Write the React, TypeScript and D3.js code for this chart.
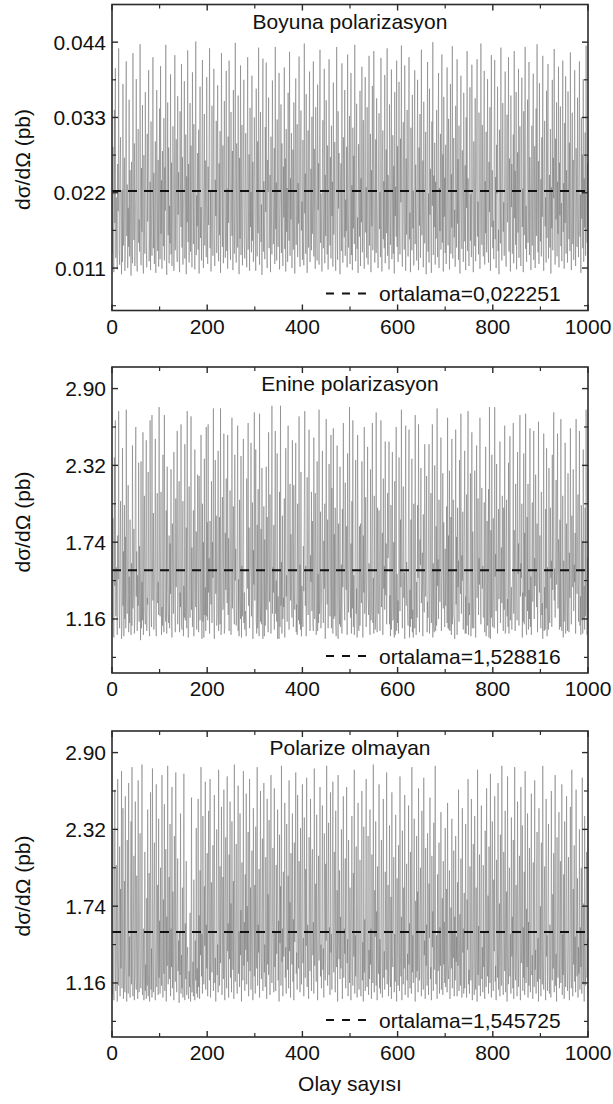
import React from "react";
import * as d3 from "d3";

// ---------- data ----------
// one value per event, events 1..1000

const X_TICKS = [0, 200, 400, 600, 800, 1000];
const X_MINOR = [100, 300, 500, 700, 900];

const TITLES = ["Boyuna polarizasyon", "Enine polarizasyon", "Polarize olmayan"];
const MEANS = [0.022251, 1.528816, 1.545725];
const MEAN_LABELS = ["ortalama=0,022251", "ortalama=1,528816", "ortalama=1,545725"];

const Y_TICKS_A = [0.011, 0.022, 0.033, 0.044];
const Y_TICK_LABELS_A = ["0.011", "0.022", "0.033", "0.044"];
const Y_MINOR_A = [0.0055, 0.0165, 0.0275, 0.0385];
const Y_DOMAIN_A = [0.0048, 0.0495];

const Y_TICKS_B = [1.16, 1.74, 2.32, 2.9];
const Y_TICK_LABELS_B = ["1.16", "1.74", "2.32", "2.90"];
const Y_MINOR_B = [0.87, 1.45, 2.03, 2.61];
const Y_DOMAIN_B = [0.752, 3.063];

const BOYUNA = [
  .0132,.0287,.0118,.0104,.0341,.0176,.0402,.0125,.0213,.0149,.0108,.0262,.0193,.0431,.0137,.0115,.0246,.0301,.0162,.0101,
  .0224,.0119,.0379,.0143,.0185,.0271,.0106,.0129,.0333,.0412,.0157,.0232,.0110,.0198,.0141,.0356,.0127,.0253,.0172,.0099,
  .0265,.0138,.0117,.0424,.0203,.0151,.0292,.0113,.0169,.0240,.0386,.0126,.0105,.0218,.0313,.0147,.0181,.0134,.0437,.0209,
  .0114,.0256,.0163,.0348,.0122,.0102,.0275,.0190,.0131,.0367,.0229,.0144,.0111,.0306,.0178,.0259,.0399,.0120,.0155,.0236,
  .0107,.0324,.0166,.0128,.0213,.0418,.0139,.0249,.0116,.0184,.0295,.0103,.0152,.0370,.0227,.0135,.0268,.0112,.0197,.0343,
  .0123,.0405,.0160,.0238,.0109,.0281,.0174,.0142,.0329,.0121,.0257,.0194,.0436,.0133,.0100,.0219,.0352,.0158,.0286,.0117,
  .0201,.0146,.0393,.0130,.0264,.0113,.0179,.0317,.0242,.0106,.0161,.0421,.0136,.0225,.0298,.0150,.0119,.0361,.0188,.0250,
  .0127,.0104,.0339,.0214,.0170,.0408,.0140,.0272,.0115,.0196,.0233,.0383,.0124,.0159,.0305,.0101,.0244,.0177,.0428,.0148,
  .0262,.0118,.0207,.0351,.0134,.0289,.0165,.0111,.0396,.0229,.0145,.0320,.0187,.0108,.0255,.0441,.0129,.0216,.0171,.0278,
  .0137,.0312,.0102,.0247,.0375,.0154,.0199,.0121,.0284,.0414,.0162,.0110,.0236,.0335,.0143,.0267,.0183,.0126,.0389,.0205,
  .0116,.0258,.0173,.0297,.0431,.0139,.0222,.0105,.0166,.0347,.0191,.0128,.0274,.0401,.0152,.0113,.0239,.0186,.0325,.0132,
  .0211,.0377,.0147,.0120,.0263,.0158,.0310,.0103,.0195,.0424,.0230,.0141,.0289,.0117,.0168,.0354,.0249,.0125,.0182,.0398,
  .0135,.0226,.0109,.0302,.0176,.0413,.0260,.0144,.0122,.0338,.0201,.0157,.0281,.0107,.0370,.0215,.0131,.0245,.0439,.0164,
  .0118,.0292,.0189,.0140,.0362,.0233,.0101,.0271,.0153,.0406,.0129,.0208,.0319,.0114,.0179,.0252,.0385,.0146,.0124,.0228,
  .0307,.0160,.0111,.0243,.0418,.0137,.0198,.0276,.0106,.0344,.0170,.0221,.0133,.0391,.0150,.0265,.0119,.0185,.0330,.0240,
  .0142,.0106,.0372,.0213,.0127,.0295,.0161,.0432,.0180,.0115,.0254,.0338,.0148,.0203,.0100,.0279,.0416,.0134,.0237,.0174,
  .0123,.0316,.0192,.0410,.0156,.0110,.0268,.0221,.0359,.0139,.0171,.0246,.0104,.0302,.0187,.0130,.0384,.0251,.0145,.0209,
  .0285,.0116,.0433,.0167,.0235,.0121,.0327,.0197,.0141,.0261,.0395,.0108,.0177,.0224,.0349,.0132,.0292,.0154,.0113,.0258,
  .0184,.0403,.0138,.0270,.0105,.0313,.0163,.0227,.0119,.0366,.0202,.0150,.0426,.0128,.0241,.0181,.0307,.0110,.0173,.0283,
  .0137,.0352,.0216,.0102,.0259,.0387,.0144,.0196,.0320,.0126,.0234,.0175,.0419,.0158,.0112,.0275,.0340,.0165,.0207,.0122,
  .0297,.0149,.0114,.0438,.0190,.0248,.0131,.0364,.0169,.0103,.0222,.0311,.0140,.0267,.0397,.0119,.0183,.0255,.0136,.0331,
  .0160,.0207,.0412,.0127,.0284,.0172,.0109,.0345,.0238,.0153,.0121,.0378,.0195,.0263,.0115,.0304,.0429,.0147,.0219,.0178,
  .0105,.0262,.0326,.0139,.0188,.0401,.0117,.0246,.0157,.0355,.0226,.0130,.0289,.0108,.0170,.0415,.0203,.0143,.0272,.0124,
  .0318,.0186,.0236,.0112,.0381,.0159,.0214,.0294,.0134,.0106,.0250,.0433,.0166,.0122,.0339,.0197,.0278,.0148,.0101,.0227,
  .0263,.0135,.0409,.0180,.0118,.0301,.0243,.0155,.0370,.0128,.0210,.0164,.0287,.0111,.0422,.0192,.0140,.0256,.0332,.0116,
  .0174,.0395,.0129,.0231,.0107,.0315,.0168,.0274,.0145,.0436,.0199,.0120,.0257,.0350,.0138,.0184,.0103,.0291,.0218,.0156,
  .0369,.0113,.0241,.0177,.0404,.0133,.0204,.0326,.0151,.0109,.0280,.0389,.0162,.0228,.0125,.0345,.0194,.0115,.0266,.0420,
  .0143,.0212,.0306,.0104,.0253,.0171,.0376,.0136,.0189,.0427,.0244,.0118,.0160,.0298,.0132,.0358,.0208,.0149,.0110,.0271,
  .0336,.0167,.0221,.0126,.0417,.0182,.0105,.0264,.0311,.0152,.0237,.0139,.0392,.0117,.0200,.0283,.0161,.0431,.0128,.0246,
  .0190,.0108,.0349,.0273,.0144,.0216,.0400,.0123,.0175,.0304,.0131,.0259,.0102,.0367,.0186,.0229,.0156,.0413,.0141,.0288,
  .0119,.0235,.0382,.0166,.0130,.0299,.0206,.0435,.0148,.0112,.0251,.0323,.0179,.0137,.0406,.0222,.0106,.0270,.0159,.0341,
  .0203,.0127,.0274,.0418,.0152,.0191,.0104,.0315,.0240,.0136,.0363,.0168,.0223,.0114,.0296,.0399,.0145,.0261,.0182,.0121,
  .0248,.0385,.0139,.0107,.0286,.0172,.0335,.0125,.0214,.0429,.0158,.0194,.0267,.0111,.0353,.0233,.0146,.0180,.0309,.0101,
  .0161,.0278,.0411,.0134,.0219,.0118,.0372,.0188,.0255,.0142,.0103,.0324,.0201,.0440,.0129,.0245,.0170,.0293,.0115,.0236,
  .0153,.0341,.0196,.0126,.0265,.0395,.0110,.0227,.0164,.0306,.0137,.0209,.0422,.0147,.0276,.0105,.0360,.0185,.0242,.0132,
  .0290,.0116,.0178,.0403,.0220,.0143,.0328,.0256,.0108,.0192,.0379,.0131,.0247,.0169,.0434,.0124,.0213,.0300,.0155,.0195,
  .0112,.0347,.0232,.0140,.0415,.0175,.0269,.0122,.0318,.0158,.0102,.0254,.0391,.0187,.0138,.0282,.0226,.0119,.0366,.0210,
  .0149,.0260,.0107,.0330,.0198,.0427,.0135,.0241,.0167,.0113,.0302,.0374,.0150,.0218,.0126,.0407,.0263,.0181,.0104,.0295,
  .0228,.0142,.0358,.0120,.0184,.0283,.0415,.0156,.0207,.0130,.0337,.0249,.0109,.0173,.0438,.0214,.0144,.0319,.0190,.0127,
  .0274,.0398,.0115,.0237,.0161,.0309,.0133,.0203,.0386,.0148,.0118,.0265,.0192,.0345,.0106,.0231,.0421,.0170,.0253,.0139,
  .0179,.0123,.0326,.0414,.0152,.0243,.0110,.0290,.0219,.0375,.0135,.0166,.0101,.0312,.0257,.0146,.0432,.0188,.0121,.0239,
  .0351,.0163,.0206,.0128,.0285,.0397,.0141,.0112,.0248,.0334,.0177,.0224,.0418,.0134,.0270,.0154,.0105,.0362,.0199,.0262,
  .0131,.0211,.0305,.0117,.0427,.0183,.0252,.0144,.0367,.0108,.0196,.0279,.0162,.0401,.0125,.0234,.0317,.0150,.0113,.0245,
  .0388,.0170,.0226,.0104,.0339,.0158,.0294,.0433,.0138,.0201,.0119,.0261,.0356,.0147,.0186,.0411,.0129,.0272,.0217,.0107,
  .0165,.0318,.0143,.0250,.0394,.0122,.0176,.0288,.0110,.0230,.0343,.0157,.0437,.0198,.0133,.0266,.0116,.0380,.0208,.0149,
  .0240,.0127,.0301,.0185,.0420,.0139,.0106,.0257,.0325,.0171,.0213,.0118,.0369,.0154,.0283,.0408,.0124,.0193,.0246,.0140,
  .0313,.0102,.0228,.0168,.0385,.0136,.0271,.0212,.0430,.0149,.0115,.0299,.0181,.0352,.0127,.0236,.0160,.0404,.0111,.0264,
  .0187,.0346,.0142,.0205,.0120,.0281,.0413,.0163,.0234,.0109,.0322,.0176,.0390,.0131,.0253,.0198,.0118,.0368,.0221,.0152,
  .0293,.0135,.0425,.0179,.0107,.0244,.0337,.0145,.0268,.0122,.0209,.0399,.0166,.0113,.0285,.0230,.0141,.0359,.0192,.0126,
  .0254,.0412,.0156,.0217,.0103,.0330,.0182,.0276,.0139,.0386,.0119,.0241,.0169,.0308,.0128,.0435,.0200,.0147,.0263,.0172,
];

const ENINE = [
  1.13,1.92,1.06,1.02,2.38,1.41,2.66,1.18,1.55,1.27,1.04,1.79,1.46,2.73,1.21,1.09,1.63,2.05,1.36,1.01,
  1.10,2.45,1.26,1.67,1.03,2.02,1.16,1.78,1.09,2.74,1.35,1.20,1.70,2.17,1.06,1.48,1.13,1.91,1.31,1.04,
  1.58,1.11,2.47,1.24,1.39,1.84,1.05,1.16,2.19,2.61,1.33,1.67,1.07,1.49,1.26,2.34,1.14,1.71,1.43,1.00,
  2.35,1.09,1.44,1.15,2.57,1.04,1.59,2.09,1.22,1.12,1.82,2.51,1.07,1.32,1.27,2.27,1.53,1.11,1.03,2.66,
  1.75,1.22,1.10,2.70,1.52,1.30,1.96,1.08,1.37,1.66,2.52,1.15,1.03,1.54,2.11,1.28,1.44,1.19,2.76,1.50,
  1.18,1.60,2.12,1.04,1.25,1.11,2.40,1.31,1.06,2.70,1.69,1.23,1.14,1.98,1.05,2.31,1.43,1.20,1.13,1.79,
  1.09,1.73,1.35,2.29,1.14,1.02,1.88,1.47,1.20,2.42,1.61,1.29,1.06,2.07,1.40,1.78,2.58,1.12,1.32,1.64,
  2.20,1.06,1.36,1.25,2.63,1.12,1.08,1.72,2.05,1.03,1.41,1.17,2.48,1.15,1.28,1.85,1.09,2.73,1.29,1.02,
  1.04,2.16,1.38,1.17,1.51,2.69,1.23,1.70,1.10,1.42,1.98,1.03,1.34,2.44,1.59,1.25,1.82,1.08,1.45,2.25,
  1.55,1.06,2.24,1.80,1.15,1.34,2.55,1.21,1.01,2.03,1.14,1.74,1.02,2.37,1.19,1.40,1.07,2.61,1.18,1.89,
  1.15,2.63,1.36,1.62,1.05,1.90,1.40,1.27,2.20,1.13,1.74,1.47,2.75,1.21,1.01,1.53,2.36,1.35,1.94,1.11,
  1.19,1.67,2.43,1.07,1.33,1.93,1.12,2.75,1.04,1.10,1.73,2.08,1.23,1.28,2.56,1.05,1.09,1.81,1.38,2.22,
  1.48,1.28,2.55,1.19,1.77,1.07,1.41,2.13,1.65,1.04,1.37,2.68,1.24,1.56,2.01,1.31,1.12,2.40,1.45,1.69,
  1.11,1.24,1.79,2.62,1.07,1.46,1.03,2.06,1.31,1.16,2.39,1.02,1.56,1.18,1.95,2.52,1.13,1.36,1.08,1.22,
  1.16,1.03,2.22,1.54,1.39,2.64,1.26,1.85,1.09,1.46,1.60,2.49,1.18,1.34,2.04,1.01,1.68,1.42,2.72,1.30,
  1.70,2.44,1.15,1.05,1.87,1.09,2.14,1.27,1.03,2.71,1.26,1.14,1.84,1.12,2.30,1.48,1.01,1.37,2.01,1.03,
  1.76,1.11,1.52,2.31,1.23,1.93,1.38,1.06,2.57,1.61,1.29,2.10,1.44,1.05,1.72,2.77,1.20,1.55,1.36,1.87,
  1.08,1.78,2.58,1.20,1.45,1.14,2.41,1.01,1.33,1.19,1.01,2.12,1.10,2.77,1.26,1.59,1.05,1.94,1.16,1.32,
  1.25,2.07,1.02,1.66,2.45,1.33,1.49,1.14,1.89,2.62,1.40,1.08,1.58,2.18,1.30,1.80,1.43,1.17,2.51,1.53,
  1.10,2.17,1.38,1.23,1.82,2.49,1.06,1.27,1.04,2.03,1.32,1.15,2.69,1.12,1.57,1.08,2.27,1.03,1.41,1.29,
  1.10,1.71,1.37,1.97,2.73,1.26,1.56,1.03,1.41,2.23,1.48,1.19,1.83,2.59,1.35,1.07,1.64,1.44,2.12,1.22,
  1.90,1.13,1.07,2.53,1.44,1.16,2.11,1.65,1.04,1.22,2.35,1.07,1.50,1.13,2.74,1.20,1.30,1.97,1.09,1.36,
  1.52,2.43,1.32,1.13,1.75,1.39,2.03,1.01,1.47,2.67,1.59,1.27,1.91,1.09,1.42,2.33,1.69,1.18,1.45,2.55,
  1.09,2.15,1.46,1.05,2.60,1.16,1.80,1.18,2.00,1.12,1.03,1.72,2.47,1.27,1.01,1.88,1.35,1.12,2.31,1.10,
  1.24,1.57,1.05,1.99,1.40,2.64,1.74,1.31,1.15,2.19,1.50,1.38,1.86,1.04,2.41,1.55,1.21,1.67,2.76,1.43,
  1.17,1.73,1.05,2.05,1.24,2.66,1.10,1.49,1.04,1.11,1.95,2.36,1.20,1.39,1.02,2.55,1.56,1.08,1.07,1.86,
  1.11,1.88,1.46,1.28,2.35,1.60,1.02,1.79,1.36,2.61,1.20,1.52,2.08,1.10,1.41,1.70,2.46,1.33,1.19,1.58,
  1.31,1.04,2.29,1.15,1.21,1.85,2.64,1.13,1.47,1.05,2.09,1.41,1.08,1.19,2.72,1.28,1.06,2.00,1.23,1.20,
  1.98,1.37,1.07,1.65,2.66,1.25,1.49,1.81,1.04,2.22,1.39,1.56,1.23,2.50,1.34,1.73,1.12,1.44,2.11,1.62,
  1.80,2.50,1.12,1.34,1.03,2.02,1.08,1.27,2.42,1.15,1.17,1.74,1.02,2.20,1.04,1.42,2.61,1.07,1.50,1.13,
  1.30,1.05,2.38,1.54,1.22,1.91,1.40,2.74,1.45,1.09,1.68,2.16,1.32,1.51,1.01,1.82,2.62,1.26,1.59,1.42,
  1.20,1.11,2.08,2.59,1.02,1.38,1.10,1.91,1.16,2.37,1.06,1.23,1.02,2.03,1.55,1.09,2.70,1.30,1.04,1.44,
  1.17,2.02,1.47,2.63,1.36,1.06,1.76,1.57,2.30,1.28,1.43,1.66,1.03,1.95,1.46,1.21,2.48,1.70,1.33,1.53,
  2.24,1.06,1.29,1.17,1.88,2.48,1.05,1.15,1.62,2.11,1.13,1.35,2.63,1.02,1.58,1.11,1.06,2.32,1.25,1.07,
  1.86,1.11,2.75,1.41,1.61,1.16,2.06,1.50,1.29,1.72,2.53,1.07,1.44,1.58,2.26,1.24,1.89,1.38,1.10,1.69,
  1.26,1.47,2.01,1.13,2.68,1.09,1.79,1.08,2.28,1.07,1.24,1.93,1.04,2.52,1.12,1.36,2.06,1.18,1.16,1.01,
  1.46,2.59,1.27,1.78,1.04,2.00,1.40,1.60,1.14,2.36,1.54,1.35,2.71,1.20,1.64,1.45,1.97,1.08,1.43,1.84,
  2.43,1.05,1.33,1.05,2.10,1.11,1.86,2.73,1.04,1.28,1.19,1.46,2.26,1.03,1.22,2.57,1.09,1.82,1.32,1.09,
  1.26,2.28,1.55,1.02,1.71,2.47,1.32,1.51,2.07,1.19,1.62,1.42,2.68,1.37,1.12,1.77,2.15,1.39,1.56,1.18,
  1.17,2.04,1.06,1.39,2.46,1.03,1.20,1.90,1.11,1.57,2.14,1.02,2.76,1.30,1.01,1.83,1.17,2.40,1.13,1.10,
  1.92,1.34,1.09,2.76,1.48,1.65,1.22,2.33,1.43,1.05,1.59,1.99,1.31,1.74,2.50,1.13,1.46,1.70,1.28,2.09,
  1.45,1.07,2.00,1.23,2.62,1.05,1.06,1.74,2.06,1.18,1.31,1.10,2.34,1.05,1.67,2.54,1.15,1.26,1.40,1.08,
  1.40,1.57,2.64,1.20,1.83,1.44,1.07,2.18,1.63,1.37,1.15,2.42,1.50,1.73,1.11,1.96,2.70,1.33,1.58,1.47,
  2.03,1.02,1.36,1.14,2.41,1.12,1.81,1.33,2.71,1.10,1.04,1.93,1.22,2.18,1.08,1.38,1.16,2.60,1.10,1.48,
  1.04,1.68,2.04,1.29,1.48,2.58,1.16,1.62,1.41,2.25,1.56,1.25,1.88,1.06,1.45,2.65,1.53,1.36,1.79,1.21,
  1.09,2.12,1.19,1.28,1.01,1.84,2.56,1.07,1.40,1.08,1.99,1.24,2.45,1.03,1.55,1.20,1.08,2.30,1.14,1.13,
  2.00,1.47,1.60,1.10,2.40,1.38,1.85,2.72,1.30,1.54,1.17,1.69,2.21,1.42,1.51,2.56,1.24,1.76,1.58,1.08,
  1.91,1.10,2.67,1.21,1.07,1.52,2.09,1.02,1.60,1.14,1.29,2.49,1.05,1.13,1.88,1.37,1.07,2.26,1.32,1.06,
  1.66,1.32,2.60,1.49,1.12,1.94,1.63,1.40,2.29,1.22,1.57,1.44,1.81,1.05,2.67,1.52,1.35,1.72,2.10,1.14,
  1.46,2.58,1.11,1.33,1.04,2.02,1.15,1.75,1.05,2.44,1.16,1.41,1.08,2.00,1.18,2.74,1.31,1.04,1.62,1.20,
];

const POLARIZE_OLMAYAN = [
  1.07,2.31,1.18,1.03,1.76,2.62,1.24,1.10,2.05,1.41,1.02,2.70,1.33,1.14,1.58,2.19,1.06,1.87,1.27,2.76,
  1.12,1.45,2.48,1.04,1.29,1.93,1.09,2.57,1.36,1.16,1.02,2.24,1.68,1.08,2.67,1.21,1.51,1.05,1.82,2.38,
  1.15,2.79,1.31,1.06,1.64,2.12,1.03,1.40,2.53,1.20,1.11,1.97,1.47,1.04,2.69,1.26,1.09,1.73,2.29,1.13,
  1.12,1.39,2.81,1.07,1.22,1.57,1.03,1.15,2.15,1.10,1.30,1.04,1.80,1.14,2.47,1.06,1.24,1.99,1.02,1.35,
  2.60,1.11,1.42,1.05,2.78,1.26,1.09,1.71,2.22,1.17,1.03,1.52,2.66,1.13,1.36,1.90,1.07,2.40,1.20,1.63,
  1.08,2.03,1.31,1.14,2.73,1.46,1.05,1.79,1.23,2.51,1.10,1.38,2.17,1.02,1.66,1.29,2.80,1.15,1.44,1.96,
  1.19,2.36,1.06,1.57,1.28,2.64,1.12,1.85,1.41,1.03,2.27,1.50,1.17,2.75,1.34,1.09,1.72,2.10,1.25,1.48,
  1.01,1.55,1.22,2.44,1.08,1.37,1.12,1.88,1.05,1.28,2.74,1.14,1.03,1.61,1.19,2.08,1.07,1.34,1.43,1.10,
  1.04,1.25,1.13,1.69,1.02,1.21,2.56,1.09,1.16,1.32,1.06,1.94,1.11,1.03,1.48,1.18,2.33,1.08,1.27,1.05,
  2.55,1.13,1.67,1.04,2.01,1.37,2.79,1.21,1.53,1.08,2.42,1.30,1.15,1.89,1.44,2.68,1.11,1.60,1.27,2.14,
  1.06,1.78,2.46,1.33,1.18,2.70,1.05,1.49,1.92,1.24,1.40,2.20,1.10,1.63,2.58,1.16,1.35,1.02,1.84,2.32,
  1.22,1.45,1.09,2.77,1.58,1.14,2.04,1.31,1.70,2.49,1.07,1.38,1.96,1.19,2.62,1.47,1.03,1.82,2.26,1.28,
  1.12,2.72,1.40,1.61,1.05,2.13,1.34,2.53,1.20,1.76,1.09,2.38,1.51,1.26,1.93,1.04,2.81,1.43,1.17,1.68,
  2.21,1.30,1.08,1.86,2.65,1.23,1.55,1.13,2.44,1.37,1.71,1.02,2.07,1.48,1.18,2.76,1.29,1.62,1.10,1.98,
  1.41,2.59,1.15,1.74,1.32,2.30,1.06,1.53,2.70,1.25,1.88,1.11,1.44,2.16,1.36,1.03,2.48,1.67,1.21,1.90,
  1.08,2.34,1.47,1.27,2.79,1.14,1.60,1.39,2.02,1.05,1.81,2.61,1.33,1.19,1.73,2.25,1.10,1.50,2.67,1.24,
  1.45,1.13,2.11,1.66,1.04,2.55,1.30,1.83,1.22,2.39,1.49,1.07,1.95,2.73,1.35,1.16,1.58,2.18,1.42,1.09,
  2.63,1.28,1.54,1.10,2.05,1.38,1.76,2.47,1.18,1.63,1.02,2.28,1.46,1.89,1.14,2.80,1.32,1.57,1.06,2.00,
  1.36,1.71,2.52,1.20,1.43,1.08,2.36,1.61,1.26,1.97,1.12,2.69,1.40,1.77,1.05,2.14,1.52,1.30,2.44,1.17,
  1.64,1.03,2.22,1.47,1.85,2.75,1.23,1.39,1.11,2.58,1.55,1.27,2.08,1.69,1.09,2.33,1.41,1.15,1.92,2.66,
  1.31,1.50,1.06,2.41,1.74,1.20,2.02,1.44,2.71,1.13,1.60,1.35,1.04,2.26,1.82,1.25,2.55,1.46,1.10,1.96,
  2.17,1.37,1.62,1.08,2.78,1.29,1.51,1.91,1.17,2.43,1.40,1.03,1.70,2.12,1.33,1.56,2.64,1.21,1.45,1.12,
  1.80,2.50,1.26,1.42,1.05,2.29,1.63,1.18,2.06,1.48,2.80,1.32,1.14,1.75,2.37,1.22,1.58,1.07,2.60,1.39,
  1.53,1.11,1.94,2.68,1.36,1.24,2.15,1.69,1.09,2.46,1.43,1.28,1.86,1.02,2.73,1.50,1.34,2.01,1.19,1.66,
  1.27,2.32,1.45,1.04,1.79,2.57,1.20,1.57,1.38,2.10,1.12,1.72,2.64,1.31,1.49,1.06,2.24,1.61,1.16,1.88,
  1.44,1.03,1.68,2.42,1.25,1.14,1.99,1.36,2.77,1.08,1.52,1.21,2.19,1.40,1.05,1.83,2.52,1.29,1.11,1.62,
  2.09,1.33,1.06,1.75,2.61,1.18,1.47,1.02,2.34,1.24,1.64,1.10,1.93,2.70,1.35,1.13,1.55,2.27,1.07,1.41,
  1.19,2.47,1.30,1.57,1.04,2.13,1.42,1.16,2.81,1.27,1.09,1.86,1.51,2.38,1.14,1.70,1.03,2.04,1.37,1.23,
  2.66,1.12,1.49,1.08,1.77,2.24,1.31,1.05,1.63,2.55,1.20,1.40,1.11,2.00,1.58,1.26,2.75,1.15,1.34,1.90,
  1.06,1.46,2.35,1.22,1.13,1.81,1.04,2.60,1.36,1.28,1.69,2.11,1.09,1.53,1.17,2.43,1.25,1.02,1.95,1.44,
  1.14,2.20,1.56,1.10,2.72,1.35,1.21,1.66,1.03,2.31,1.47,1.15,1.88,1.27,2.58,1.07,1.42,1.73,2.06,1.18,
  1.38,1.05,2.50,1.30,1.61,1.12,2.15,1.45,1.08,2.79,1.24,1.52,1.16,1.97,2.40,1.33,1.02,1.78,1.20,2.27,
  1.25,1.85,1.09,2.63,1.41,1.18,1.74,2.03,1.31,1.06,2.46,1.59,1.22,1.11,2.71,1.37,1.48,1.04,2.18,1.29,
  1.60,1.14,2.29,1.33,1.07,1.91,1.50,2.56,1.19,1.28,1.03,2.12,1.43,1.70,1.10,2.37,1.26,1.55,2.80,1.16,
  1.15,1.52,1.04,1.98,1.25,1.32,2.22,1.08,1.58,1.29,2.45,1.11,1.34,1.80,1.07,2.08,1.30,1.62,1.16,2.33,
  1.13,1.28,1.87,1.09,2.52,1.33,1.19,1.31,2.01,1.04,1.36,1.73,1.27,2.40,1.12,1.55,1.35,2.16,1.06,1.66,
  1.18,2.27,1.32,1.51,1.06,1.92,1.29,2.62,1.10,1.37,1.68,1.14,2.10,1.45,1.05,2.48,1.39,1.57,1.08,1.84,
  1.12,1.63,2.36,1.20,1.05,1.79,1.41,2.70,1.15,1.26,1.08,2.04,1.50,1.18,2.55,1.33,1.03,1.72,2.21,1.24,
  1.07,2.42,1.35,1.11,1.88,1.46,1.02,2.77,1.22,1.59,1.14,2.13,1.30,1.06,1.96,2.50,1.19,1.43,1.09,2.05,
  1.28,1.55,1.04,2.31,1.69,1.13,2.63,1.37,1.21,1.82,1.08,2.19,1.48,1.16,2.74,1.32,1.05,1.65,2.38,1.23,
  1.10,1.94,1.40,2.57,1.17,1.29,1.03,2.09,1.52,1.20,2.67,1.11,1.44,1.76,1.06,2.28,1.34,1.14,2.80,1.47,
  1.19,1.07,2.15,1.60,1.25,2.46,1.09,1.38,1.85,1.02,2.72,1.30,1.15,1.71,2.03,1.21,1.53,1.08,2.41,1.36,
  1.66,1.12,2.24,1.04,1.49,2.79,1.27,1.18,1.90,1.35,1.06,2.53,1.42,1.13,1.78,2.12,1.23,1.03,2.64,1.31,
  1.45,2.35,1.10,1.58,1.20,2.00,1.07,2.76,1.39,1.16,1.72,1.28,2.44,1.05,1.62,1.14,2.18,1.47,1.09,1.86,
  2.59,1.22,1.37,1.04,2.07,1.54,1.13,2.69,1.26,1.41,1.08,1.97,2.30,1.17,1.50,1.02,2.48,1.33,1.19,1.74,
  1.06,2.22,1.44,1.15,2.80,1.30,1.11,1.67,2.04,1.21,1.03,2.55,1.36,1.52,1.10,1.89,2.36,1.24,1.08,1.60,
  1.32,1.05,2.61,1.41,1.18,1.83,1.27,2.14,1.09,1.56,2.73,1.14,1.38,1.02,2.26,1.48,1.20,1.77,2.45,1.12,
  1.40,2.08,1.16,1.31,2.66,1.07,1.53,1.22,1.98,1.04,2.38,1.35,1.13,1.70,2.57,1.26,1.10,1.45,2.11,1.19,
  1.03,1.64,2.49,1.25,1.12,2.77,1.39,1.06,1.87,1.30,2.20,1.17,1.51,1.09,2.62,1.34,1.21,1.95,1.05,1.43,
  1.23,2.32,1.11,1.58,1.28,2.03,1.08,2.71,1.37,1.15,1.76,1.02,2.42,1.29,1.14,1.66,2.15,1.20,1.49,1.07,
];

const SERIES = [BOYUNA, ENINE, POLARIZE_OLMAYAN];

// ---------- layout ----------
const W = 613;
const H = 1104;
const PLOT_LEFT = 112;
const PLOT_RIGHT = 588;
const PANEL_TOPS = [4.5, 367, 731];
const PANEL_H = 306;
const FONT = "'Liberation Sans', Arial, sans-serif";
const FS = 21;

interface PanelCfg {
  values: number[];
  domain: number[];
  ticks: number[];
  tickLabels: string[];
  minor: number[];
  title: string;
  mean: number;
  meanLabel: string;
  top: number;
  id: number;
}

function Panel(p: PanelCfg) {
  const x = d3.scaleLinear().domain([0, 1000]).range([PLOT_LEFT, PLOT_RIGHT]);
  const y = d3
    .scaleLinear()
    .domain(p.domain)
    .range([p.top + PANEL_H, p.top]);
  const bottom = p.top + PANEL_H;
  const line = d3
    .line<number>()
    .x((_, i) => x(i + 1))
    .y((v) => y(v));
  const clipId = `clip${p.id}`;
  const frame = "#2b2b2b";
  const MAJ = 6;
  const MIN = 4;
  const legY = bottom - 9.5;
  return (
    <g>
      <defs>
        <clipPath id={clipId}>
          <rect x={PLOT_LEFT} y={p.top} width={PLOT_RIGHT - PLOT_LEFT} height={PANEL_H} />
        </clipPath>
      </defs>
      <path
        d={line(p.values) || ""}
        fill="none"
        stroke="#6e6e6e"
        strokeWidth={0.5}
        clipPath={`url(#${clipId})`}
      />
      <line
        x1={PLOT_LEFT}
        x2={PLOT_RIGHT}
        y1={y(p.mean)}
        y2={y(p.mean)}
        stroke="#111"
        strokeWidth={2}
        strokeDasharray="9,7"
      />
      <rect
        x={PLOT_LEFT}
        y={p.top}
        width={PLOT_RIGHT - PLOT_LEFT}
        height={PANEL_H}
        fill="none"
        stroke={frame}
        strokeWidth={1.6}
      />
      {X_TICKS.map((t) => (
        <g key={`xt${t}`}>
          <line x1={x(t)} x2={x(t)} y1={bottom} y2={bottom - MAJ} stroke={frame} strokeWidth={1.4} />
          <line x1={x(t)} x2={x(t)} y1={p.top} y2={p.top + MAJ} stroke={frame} strokeWidth={1.4} />
          <text x={x(t)} y={bottom + 23} textAnchor="middle" fontFamily={FONT} fontSize={FS} fill="#111">
            {t}
          </text>
        </g>
      ))}
      {X_MINOR.map((t) => (
        <g key={`xm${t}`}>
          <line x1={x(t)} x2={x(t)} y1={bottom} y2={bottom - MIN} stroke={frame} strokeWidth={1.2} />
          <line x1={x(t)} x2={x(t)} y1={p.top} y2={p.top + MIN} stroke={frame} strokeWidth={1.2} />
        </g>
      ))}
      {p.ticks.map((t, i) => (
        <g key={`yt${i}`}>
          <line x1={PLOT_LEFT} x2={PLOT_LEFT + MAJ} y1={y(t)} y2={y(t)} stroke={frame} strokeWidth={1.4} />
          <line x1={PLOT_RIGHT} x2={PLOT_RIGHT - MAJ} y1={y(t)} y2={y(t)} stroke={frame} strokeWidth={1.4} />
          <text x={PLOT_LEFT - 6} y={y(t) + 7.5} textAnchor="end" fontFamily={FONT} fontSize={FS} fill="#111">
            {p.tickLabels[i]}
          </text>
        </g>
      ))}
      {p.minor.map((t, i) => (
        <g key={`ym${i}`}>
          <line x1={PLOT_LEFT} x2={PLOT_LEFT + MIN} y1={y(t)} y2={y(t)} stroke={frame} strokeWidth={1.2} />
          <line x1={PLOT_RIGHT} x2={PLOT_RIGHT - MIN} y1={y(t)} y2={y(t)} stroke={frame} strokeWidth={1.2} />
        </g>
      ))}
      <text x={(PLOT_LEFT + PLOT_RIGHT) / 2} y={p.top + 24} textAnchor="middle" fontFamily={FONT} fontSize={FS} fill="#111">
        {p.title}
      </text>
      <line
        x1={326}
        x2={366}
        y1={legY - 7.5}
        y2={legY - 7.5}
        stroke="#111"
        strokeWidth={2}
        strokeDasharray="8,8"
      />
      <text x={379} y={legY} fontFamily={FONT} fontSize={FS} fill="#111">
        {p.meanLabel}
      </text>
      <text
        transform={`translate(30, ${p.top + PANEL_H / 2 + 2}) rotate(-90)`}
        textAnchor="middle"
        fontFamily={FONT}
        fontSize={FS}
        fill="#111"
      >
        dσ/dΩ (pb)
      </text>
    </g>
  );
}

export default function App() {
  return (
    <svg
      width={W}
      height={H}
      viewBox={`0 0 ${W} ${H}`}
      style={{ position: "absolute", left: 0, top: 0, background: "#fff" }}
    >
      <rect x={0} y={0} width={W} height={H} fill="#fff" />
      {SERIES.map((vals, k) => (
        <Panel
          key={k}
          id={k}
          values={vals}
          domain={k === 0 ? Y_DOMAIN_A : Y_DOMAIN_B}
          ticks={k === 0 ? Y_TICKS_A : Y_TICKS_B}
          tickLabels={k === 0 ? Y_TICK_LABELS_A : Y_TICK_LABELS_B}
          minor={k === 0 ? Y_MINOR_A : Y_MINOR_B}
          title={TITLES[k]}
          mean={MEANS[k]}
          meanLabel={MEAN_LABELS[k]}
          top={PANEL_TOPS[k]}
        />
      ))}
      <text x={(PLOT_LEFT + PLOT_RIGHT) / 2} y={1091} textAnchor="middle" fontFamily={FONT} fontSize={FS} fill="#111">
        Olay sayısı
      </text>
    </svg>
  );
}
